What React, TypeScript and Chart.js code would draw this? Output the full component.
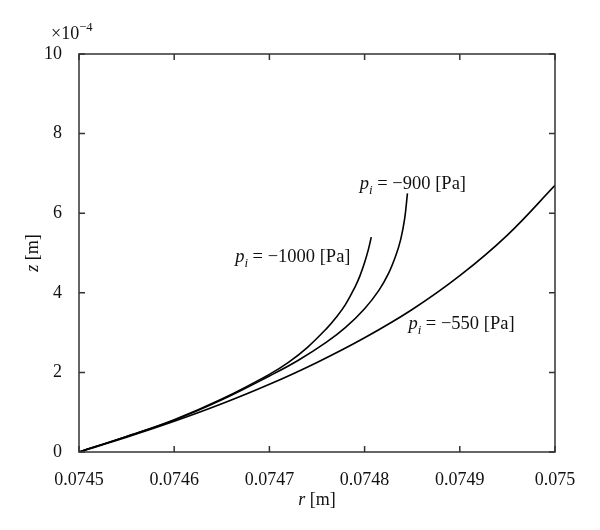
import { useEffect, useRef } from "react";
import { Chart, registerables } from "chart.js";

Chart.register(...registerables);

// ---- data (r in m, z in units of 1e-4 m) ----
const xTicks = [0.0745, 0.0746, 0.0747, 0.0748, 0.0749, 0.075];
const xTickLabels = ["0.0745", "0.0746", "0.0747", "0.0748", "0.0749", "0.075"];
const yTicks = [0, 2, 4, 6, 8, 10];
const yTickLabels = ["0", "2", "4", "6", "8", "10"];

const r1000 = [0.0745, 0.07455, 0.0746, 0.07465, 0.0747, 0.07472, 0.07474, 0.07476, 0.07477, 0.07478, 0.07479, 0.074795, 0.0748, 0.074804, 0.074807];
const z1000 = [0, 0.39, 0.81, 1.33, 1.95, 2.25, 2.63, 3.1, 3.38, 3.71, 4.15, 4.42, 4.76, 5.09, 5.4];

const r900 = [0.0745, 0.07455, 0.0746, 0.07465, 0.0747, 0.07473, 0.07476, 0.07478, 0.0748, 0.074815, 0.074825, 0.074833, 0.074838, 0.074842, 0.074845];
const z900 = [0, 0.39, 0.8, 1.31, 1.91, 2.3, 2.76, 3.13, 3.6, 4.06, 4.48, 4.95, 5.35, 5.85, 6.5];

const r550 = [0.0745, 0.07455, 0.0746, 0.07465, 0.0747, 0.07475, 0.0748, 0.07485, 0.0749, 0.07495, 0.075];
const z550 = [0, 0.37, 0.77, 1.21, 1.7, 2.25, 2.87, 3.58, 4.43, 5.45, 6.7];

const seriesPressures = ["−1000", "−900", "−550"];
// label anchors (left-baseline) in data coordinates
const labelR = [0.074664, 0.074795, 0.074846];
const labelZ = [4.77, 6.61, 3.09];

const FONT = '"Liberation Serif", "DejaVu Serif", serif';
const FS = 18;

type Part = { text: string; italic?: boolean; sub?: boolean; sup?: boolean };

function partFont(p: Part, size: number) {
  const fs = p.sub || p.sup ? size * 0.7 : size;
  return `${p.italic ? "italic " : ""}${fs}px ${FONT}`;
}
function measureRich(ctx: CanvasRenderingContext2D, parts: Part[], size: number) {
  let w = 0;
  for (const p of parts) {
    ctx.font = partFont(p, size);
    w += ctx.measureText(p.text).width;
  }
  return w;
}
function drawRich(ctx: CanvasRenderingContext2D, x: number, y: number, parts: Part[], size: number) {
  let cx = x;
  ctx.textAlign = "left";
  ctx.textBaseline = "alphabetic";
  for (const p of parts) {
    ctx.font = partFont(p, size);
    const dy = p.sub ? size * 0.28 : p.sup ? -size * 0.42 : 0;
    ctx.fillText(p.text, cx, y + dy);
    cx += ctx.measureText(p.text).width;
  }
}

const framePlugin = {
  id: "framePlugin",
  afterDraw(chart: any) {
    const ctx: CanvasRenderingContext2D = chart.ctx;
    const { left, right, top, bottom } = chart.chartArea;
    const xs = chart.scales.x;
    const ys = chart.scales.y;
    ctx.save();
    ctx.strokeStyle = "#333";
    ctx.lineWidth = 1.5;
    ctx.strokeRect(left, top, right - left, bottom - top);
    const tl = 6;
    ctx.beginPath();
    for (const v of xTicks) {
      const px = xs.getPixelForValue(v);
      ctx.moveTo(px, bottom);
      ctx.lineTo(px, bottom - tl);
      ctx.moveTo(px, top);
      ctx.lineTo(px, top + tl);
    }
    for (const v of yTicks) {
      const py = ys.getPixelForValue(v);
      ctx.moveTo(left, py);
      ctx.lineTo(left + tl, py);
      ctx.moveTo(right, py);
      ctx.lineTo(right - tl, py);
    }
    ctx.stroke();

    ctx.fillStyle = "#111";
    // series labels
    seriesPressures.forEach((p, i) => {
      const x = xs.getPixelForValue(labelR[i]);
      const y = ys.getPixelForValue(labelZ[i]);
      drawRich(ctx, x, y, [
        { text: "p", italic: true },
        { text: "i", italic: true, sub: true },
        { text: ` = ${p} [Pa]` },
      ], 18.5);
    });

    // x axis title
    const xt: Part[] = [{ text: "r", italic: true }, { text: " [m]" }];
    const xw = measureRich(ctx, xt, FS);
    drawRich(ctx, (left + right) / 2 - xw / 2, bottom + 53, xt, FS);

    // y axis title
    const yt: Part[] = [{ text: "z", italic: true }, { text: " [m]" }];
    const yw = measureRich(ctx, yt, FS);
    ctx.save();
    ctx.translate(left - 41, (top + bottom) / 2);
    ctx.rotate(-Math.PI / 2);
    drawRich(ctx, -yw / 2, 0, yt, FS);
    ctx.restore();

    // exponent
    drawRich(ctx, left - 28, top - 15, [{ text: "×10" }, { text: "−4", sup: true }], 18);
    ctx.restore();
  },
};

export default function App() {
  const ref = useRef<HTMLCanvasElement | null>(null);
  useEffect(() => {
    if (!ref.current) return;
    const mk = (r: number[], z: number[]) => r.map((v, i) => ({ x: v, y: z[i] }));
    const ds = (label: string, r: number[], z: number[]) => ({
      label,
      data: mk(r, z),
      borderColor: "#000",
      borderWidth: 1.6,
      pointRadius: 0,
      fill: false,
      tension: 0.4,
    });
    const chart = new Chart(ref.current, {
      type: "line",
      data: {
        datasets: [
          ds("p_i = −1000 [Pa]", r1000, z1000),
          ds("p_i = −900 [Pa]", r900, z900),
          ds("p_i = −550 [Pa]", r550, z550),
        ],
      },
      options: {
        animation: false,
        responsive: false,
        layout: { padding: { left: 0, right: 45, top: 54, bottom: 0 } },
        plugins: { legend: { display: false }, tooltip: { enabled: false } },
        scales: {
          x: {
            type: "linear",
            min: 0.0745,
            max: 0.075,
            grid: { display: false },
            border: { display: false },
            afterBuildTicks: (s: any) => {
              s.ticks = xTicks.map((v) => ({ value: v }));
            },
            afterFit: (s: any) => {
              s.height = 78;
            },
            ticks: {
              autoSkip: false,
              maxRotation: 0,
              padding: 9,
              color: "#111",
              font: { family: FONT, size: 18 },
              callback: (_v: any, i: number) => xTickLabels[i],
            },
          },
          y: {
            type: "linear",
            min: 0,
            max: 10,
            grid: { display: false },
            border: { display: false },
            afterBuildTicks: (s: any) => {
              s.ticks = yTicks.map((v) => ({ value: v }));
            },
            afterFit: (s: any) => {
              s.width = 79;
            },
            ticks: {
              autoSkip: false,
              padding: 9,
              color: "#111",
              font: { family: FONT, size: 18 },
              callback: (_v: any, i: number) => yTickLabels[i],
            },
          },
        },
      },
      plugins: [framePlugin],
    });
    return () => chart.destroy();
  }, []);
  return (
    <div style={{ position: "fixed", left: 0, top: 0, width: 600, height: 530, background: "#fff" }}>
      <canvas ref={ref} width={600} height={530} style={{ display: "block" }} />
    </div>
  );
}
